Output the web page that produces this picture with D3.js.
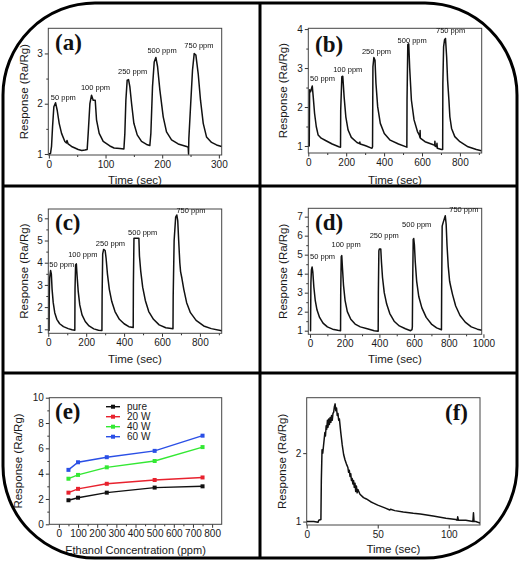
<!DOCTYPE html>
<html><head><meta charset="utf-8">
<script src="https://cdn.jsdelivr.net/npm/d3@7"></script>
<style>
body{margin:0;background:#fff}
svg{display:block}
</style>
</head><body>
<svg id="chart" width="520" height="562"></svg>
<script>
// ---------------- DATA ----------------
const ppmLabels = ["50 ppm","100 ppm","250 ppm","500 ppm","750 ppm"];

// (a) pure
const curveA = [[0,1.0],[2.9,1.01],[4.7,1.15],[6.5,1.54],[8.8,1.94],[11.8,2.02],[14.7,1.87],[18.2,1.61],[22.4,1.41],[28.2,1.25],[31,1.22],[32,1.27],[34,1.2],[40,1.15],[46,1.12],[51.8,1.09],[58,1.07],[63.5,1.08],[67.6,1.09],[69.4,1.41],[72.4,2.0],[75.3,2.17],[78.2,2.07],[81.8,2.07],[84.1,1.68],[88.8,1.41],[95.9,1.25],[107.6,1.16],[115,1.12],[125.3,1.11],[132.4,1.1],[134.1,1.41],[135.9,2.07],[138.2,2.47],[140.6,2.48],[142.9,2.34],[145.9,2.01],[150,1.61],[155.9,1.38],[163.5,1.25],[172.4,1.19],[178.2,1.17],[180,1.41],[182.9,2.34],[185.9,2.83],[188.8,2.92],[191.8,2.74],[195.9,2.27],[201.8,1.74],[207.6,1.44],[216.5,1.28],[228.2,1.2],[242.9,1.15],[245.9,1.13],[246.5,1.0],[247,1.3],[250,1.94],[253.5,2.67],[256.5,3.0],[259.4,2.97],[263.5,2.6],[267.6,2.07],[272.4,1.61],[278.2,1.34],[287.1,1.23],[295.9,1.18],[304.7,1.15]];

// (b) 20 W
const curveB = [[0,1.0],[5,1.0],[7,2.44],[12,2.39],[21,2.54],[26,2.26],[33,1.84],[42,1.5],[52,1.28],[68,1.2],[91,1.14],[126,1.05],[161,0.98],[170,0.97],[171,1.92],[177,2.78],[182,2.79],[189,2.26],[198,1.75],[210,1.41],[227,1.22],[257,1.09],[270,1.06],[272,1.1],[274,1.05],[295,1.02],[306,1.0],[336,0.94],[339,0.98],[341,3.03],[346,3.27],[352,3.2],[357,2.61],[366,2.01],[380,1.58],[401,1.32],[432,1.15],[476,1.05],[520,0.97],[521,2.18],[525,3.6],[530,3.62],[535,3.0],[544,2.18],[558,1.67],[576,1.37],[586,1.28],[589,1.22],[590,1.4],[591,1.2],[616,1.11],[660,1.03],[667,1.02],[668,1.12],[670,0.99],[677,0.98],[679,1.07],[681,0.94],[703,0.91],[709,0.91],[710,2.6],[714,3.55],[719,3.73],[724,3.76],[730,3.29],[735,2.69],[742,2.18],[747,1.75],[756,1.45],[773,1.24],[800,1.11],[843,0.98],[887,0.91],[913,0.88]];

// (c) 40 W
const curveC = [[0,0.95],[4,0.95],[5,2.5],[7,3.3],[12,3.65],[16,3.5],[20,2.8],[26,2.2],[34,1.75],[45,1.45],[60,1.25],[80,1.12],[105,1.03],[125,0.98],[140,0.96],[141,2.8],[144,3.9],[148,3.95],[152,3.4],[158,2.7],[166,2.1],[178,1.65],[195,1.35],[215,1.15],[240,1.02],[265,0.96],[283,0.95],[284,2.5],[287,4.4],[292,4.6],[300,4.55],[305,4.2],[312,3.5],[322,2.8],[335,2.25],[352,1.8],[375,1.45],[400,1.25],[425,1.12],[448,1.08],[449,3.0],[452,5.1],[478,5.1],[481,4.3],[488,3.6],[498,2.9],[512,2.3],[530,1.8],[555,1.45],[585,1.2],[620,1.07],[658,1.03],[659,2.5],[664,5.0],[672,6.05],[678,6.15],[683,5.9],[688,5.0],[694,4.0],[698,3.6],[705,3.3],[715,2.8],[730,2.2],[750,1.75],[780,1.4],[820,1.15],[860,1.03],[915,0.93]];

// (d) 60 W
const curveD = [[0,1.0],[3,1.0],[5,3.5],[8,4.2],[12,4.35],[16,4.1],[22,3.3],[30,2.6],[40,2.1],[55,1.7],[75,1.4],[100,1.2],[130,1.08],[160,1.02],[176,1.0],[177,3.0],[180,4.9],[183,4.95],[187,4.3],[193,3.4],[202,2.6],[215,2.0],[235,1.6],[260,1.35],[290,1.2],[330,1.1],[370,1.0],[393,0.97],[394,3.0],[397,5.2],[400,5.3],[408,5.3],[412,4.6],[418,3.8],[428,3.0],[442,2.4],[460,1.9],[485,1.5],[515,1.25],[550,1.1],[580,1.0],[588,1.05],[590,1.2],[592,3.5],[595,5.8],[598,5.85],[602,5.5],[607,4.6],[615,3.6],[627,2.8],[645,2.2],[670,1.7],[700,1.35],[730,1.15],[758,1.05],[759,3.0],[762,6.5],[768,6.7],[775,6.9],[780,7.05],[785,6.6],[790,5.5],[797,4.4],[805,3.6],[812,3.3],[822,2.9],[840,2.3],[865,1.8],[895,1.45],[930,1.2],[965,1.08],[990,1.02]];

// (e) response vs concentration
const concentrations = [50,100,250,500,750];
const seriesNames = ["pure","20 W","40 W","60 W"];
const pureVals = [1.9,2.1,2.5,2.9,3.0];
const w20Vals  = [2.5,2.8,3.2,3.5,3.7];
const w40Vals  = [3.6,3.9,4.5,5.0,6.1];
const w60Vals  = [4.3,4.9,5.3,5.8,7.0];

// (f) single pulse
const curveF = [[0,1.0],[5,1.0],[8,0.99],[8.5,1.02],[10,1.03],[10.3,1.6],[10.8,2.05],[11.3,2.0],[11.8,2.1],[12.3,2.2],[12.8,2.3],[13.2,2.25],[13.7,2.4],[14.1,2.35],[14.6,2.48],[15,2.38],[15.5,2.5],[16,2.42],[16.5,2.52],[17,2.45],[17.5,2.55],[18,2.48],[18.5,2.58],[19,2.6],[19.5,2.68],[20,2.72],[20.5,2.62],[21,2.66],[21.5,2.55],[22,2.58],[22.5,2.48],[23,2.5],[24,2.3],[25,2.12],[26,1.98],[27,1.9],[28,1.84],[29,1.79],[29.5,1.72],[30,1.75],[30.5,1.66],[31,1.7],[31.5,1.6],[32,1.63],[32.5,1.55],[33,1.6],[33.5,1.5],[34,1.56],[34.5,1.44],[35,1.52],[35.5,1.42],[36,1.47],[37.5,1.4],[40,1.35],[42,1.33],[45,1.29],[47,1.27],[50,1.24],[55,1.2],[58.5,1.17],[59,1.18],[62,1.16],[68,1.14],[75,1.12],[80,1.11],[89,1.08],[98,1.05],[105,1.03],[106,1.02],[106.3,1.07],[106.8,1.02],[112,1.02],[117,1.0],[117.4,1.13],[117.8,1.0],[119,1.0],[122,0.98]];

// tick labels
const ticksA = {x:[0,100,200,300], y:[1,2,3]};
const ticksB = {x:[0,200,400,600,800], y:[1,2,3,4]};
const ticksC = {x:[0,200,400,600,800], y:[1,2,3,4,5,6]};
const ticksD = {x:[0,200,400,600,800,1000], y:[1,2,3,4,5,6,7]};
const ticksE = {x:[0,100,200,300,400,500,600,700,800], y:[0,2,4,6,8,10]};
const ticksF = {x:[0,50,100], y:[1,2]};

// ---------------- DRAWING ----------------
const SANS = "'Liberation Sans',Arial,Helvetica,sans-serif";
const SERIF = "'Liberation Serif','Times New Roman',serif";
const svg = d3.select("#chart");
const defs = svg.append("defs");
defs.append("filter").attr("id","gray").attr("x",-0.1).attr("y",-0.3).attr("width",1.2).attr("height",1.6)
  .append("feColorMatrix").attr("type","saturate").attr("values",0);
svg.append("rect").attr("width",520).attr("height",562).attr("fill","#fff");

function panel(o){
  const g = svg.append("g");
  const x = d3.scaleLinear().domain(o.xd).range([o.l,o.r]);
  const y = d3.scaleLinear().domain(o.yd).range([o.b,o.t]);
  const id = "clip"+o.name;
  g.append("clipPath").attr("id",id).append("rect")
    .attr("x",o.l).attr("y",o.t).attr("width",o.r-o.l).attr("height",o.b-o.t);

  if(o.xminor){
    g.append("g").attr("transform",`translate(0,${o.b})`)
      .call(d3.axisBottom(x).tickValues(o.xminor).tickSize(2).tickFormat(""))
      .call(s=>s.select(".domain").remove())
      .call(s=>s.selectAll("line").attr("stroke","#333"));
  }
  if(o.yminor){
    g.append("g").attr("transform",`translate(${o.l},0)`)
      .call(d3.axisLeft(y).tickValues(o.yminor).tickSize(2).tickFormat(""))
      .call(s=>s.select(".domain").remove())
      .call(s=>s.selectAll("line").attr("stroke","#333"));
  }
  const xa = g.append("g").attr("transform",`translate(0,${o.b})`)
    .call(d3.axisBottom(x).tickValues(o.ticks.x).tickSize(3.5).tickPadding(2).tickFormat(d3.format("d")));
  const ya = g.append("g").attr("transform",`translate(${o.l},0)`)
    .call(d3.axisLeft(y).tickValues(o.ticks.y).tickSize(3.5).tickPadding(2).tickFormat(d3.format("d")));
  [xa,ya].forEach(a=>{
    a.select(".domain").remove();
    a.selectAll("line").attr("stroke","#333");
    a.selectAll("text").style("font-size","10px").style("fill","#1a1a1a")
      .style("font-family",SANS);
  });

  g.append("rect").attr("x",o.l).attr("y",o.t).attr("width",o.r-o.l).attr("height",o.b-o.t)
    .attr("fill","none").attr("stroke","#444").attr("stroke-width",1);

  g.append("text").attr("x",(o.l+o.r)/2).attr("y",o.xty)
    .attr("text-anchor","middle").style("font-family",SANS).style("fill","#1a1a1a")
    .style("font-size",(o.xtSize||11.5)+"px").text(o.xtitle);
  g.append("text").attr("transform",`translate(${o.ytx},${(o.t+o.b)/2}) rotate(-90)`)
    .attr("text-anchor","middle").style("font-family",SANS).style("fill","#1a1a1a")
    .style("font-size","11.5px").text("Response (Ra/Rg)");

  g.append("text").attr("x",o.lx).attr("y",o.ly)
    .style("font-family",SERIF).style("font-weight","bold").style("font-size","23px")
    .style("fill","#111").text(o.letter);

  return {g,x,y,id};
}

const line = (x,y)=>d3.line().x(d=>x(d[0])).y(d=>y(d[1]));

function timePanel(o, curve, labelAnchors){
  const p = panel(o);
  p.g.append("path").datum(curve).attr("clip-path",`url(#${p.id})`)
    .attr("fill","none").attr("stroke","#111").attr("stroke-width",1.5)
    .attr("stroke-linejoin","round").attr("d",line(p.x,p.y));
  if(labelAnchors){
    p.g.append("g").attr("filter","url(#gray)")
      .selectAll("text").data(ppmLabels).join("text")
      .attr("x",(d,i)=>p.x(labelAnchors[i][0]))
      .attr("y",(d,i)=>p.y(labelAnchors[i][1]))
      .style("font-family",SANS).style("font-size","7.5px").style("fill","#111")
      .text(d=>d);
  }
  return p;
}

timePanel({name:"a",l:48.3,r:221.7,t:28.3,b:155,xd:[-1,305],yd:[0.98,3.5],ticks:ticksA,
  xminor:[50,150,250],yminor:[1.5,2.5],xtitle:"Time (sec)",xty:184,ytx:28,letter:"(a)",lx:55,ly:50},
  curveA,[[3.5,2.07],[56.5,2.28],[122,2.6],[174,3.0],[239,3.11]]);
timePanel({name:"b",l:308.3,r:481.7,t:28.3,b:153,xd:[0,915],yd:[0.82,4.02],ticks:ticksB,
  xminor:[100,300,500,700,900],yminor:[1.5,2.5,3.5],xtitle:"Time (sec)",xty:184,ytx:287,letter:"(b)",lx:315,ly:52},
  curveB,[[9,2.68],[131,2.9],[283,3.36],[471,3.65],[674,3.89]]);
timePanel({name:"c",l:48.3,r:221.7,t:209,b:333.3,xd:[0,915],yd:[0.82,6.42],ticks:ticksC,
  xminor:[100,300,500,700,900],yminor:[1.5,2.5,3.5,4.5,5.5],xtitle:"Time (sec)",xty:363,ytx:28,letter:"(c)",lx:55,ly:230},
  curveC,[[5,3.82],[105,4.27],[251,4.75],[421,5.25],[676,6.22]]);
timePanel({name:"d",l:308.3,r:481.7,t:208.3,b:334.3,xd:[-10,990],yd:[0.81,7.44],ticks:ticksD,
  xminor:[100,300,500,700,900],yminor:[1.5,2.5,3.5,4.5,5.5,6.5],xtitle:"Time (sec)",xty:363,ytx:287,letter:"(d)",lx:315,ly:230},
  curveD,[[0,4.77],[124,5.42],[344,5.86],[531,6.47],[803,7.26]]);
timePanel({name:"f",l:306.7,r:480,t:397.7,b:525,xd:[0,122],yd:[0.95,2.81],ticks:ticksF,
  xtitle:"Time (sec)",xty:553,ytx:286,letter:"(f)",lx:445,ly:420},
  curveF,null);

// (e)
const pe = panel({name:"e",l:49.3,r:221.7,t:397.7,b:524.3,xd:[-50,850],yd:[0,10],ticks:ticksE,
  xminor:[50,150,250,350,450,550,650,750],yminor:[1,3,5,7,9],
  xtitle:"Ethanol Concentration (ppm)",xty:554,xtSize:11,ytx:22,letter:"(e)",lx:55,ly:419});
const eColors = ["#111111","#e8222e","#33e833","#2a4fe6"];
const eSeries = [pureVals,w20Vals,w40Vals,w60Vals];
eSeries.forEach((vals,k)=>{
  const pts = concentrations.map((c,i)=>[c,vals[i]]);
  pe.g.append("path").datum(pts).attr("fill","none").attr("stroke",eColors[k])
    .attr("stroke-width",1.4).attr("d",line(pe.x,pe.y));
  pe.g.selectAll(".m"+k).data(pts).join("rect")
    .attr("x",d=>pe.x(d[0])-2).attr("y",d=>pe.y(d[1])-2)
    .attr("width",4).attr("height",4).attr("fill",eColors[k]);
});
const lg = pe.g.append("g");
seriesNames.forEach((n,k)=>{
  const yy = 406.7 + k*10;
  lg.append("line").attr("x1",106).attr("x2",120).attr("y1",yy).attr("y2",yy)
    .attr("stroke",eColors[k]).attr("stroke-width",1.4);
  lg.append("rect").attr("x",111).attr("y",yy-2).attr("width",4).attr("height",4).attr("fill",eColors[k]);
  lg.append("text").attr("x",127).attr("y",yy+3.5).style("font-family",SANS)
    .style("font-size","10px").style("fill","#1a1a1a").text(n);
});

// ---------------- FRAME ----------------
const L=3,R=517,T=3,B=558,r=92;
const fr = d3.path();
fr.moveTo(L+r,T); fr.lineTo(R-r,T); fr.arcTo(R,T,R,T+r,r); fr.lineTo(R,B-r);
fr.arcTo(R,B,R-r,B,r); fr.lineTo(L+r,B); fr.arcTo(L,B,L,B-r,r); fr.lineTo(L,T+r);
fr.arcTo(L,T,L+r,T,r); fr.closePath();
const fg = svg.append("g").attr("fill","none").attr("stroke","#000").attr("stroke-width",3);
fg.append("path").attr("d",fr.toString());
fg.append("line").attr("x1",260).attr("x2",260).attr("y1",T).attr("y2",B);
fg.append("line").attr("x1",L).attr("x2",R).attr("y1",186).attr("y2",186);
fg.append("line").attr("x1",L).attr("x2",R).attr("y1",373).attr("y2",373);
</script>
</body></html>
